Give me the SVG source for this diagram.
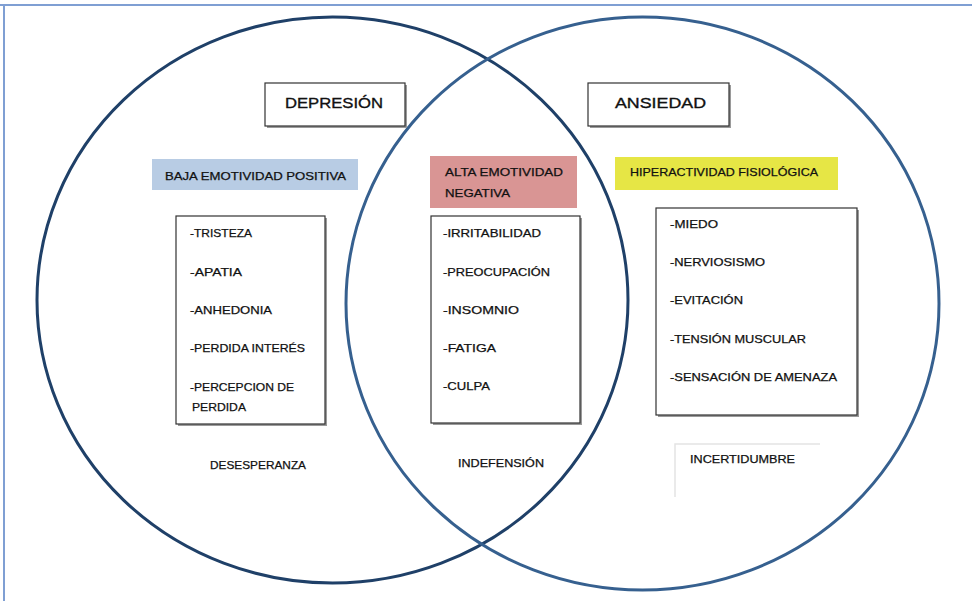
<svg xmlns="http://www.w3.org/2000/svg" width="972" height="601" viewBox="0 0 972 601">
<style>
text{font-family:"Liberation Sans","DejaVu Sans",sans-serif;fill:#111;stroke:#111;stroke-width:0.25;}
.t{font-size:11px;}
.h{font-size:15px;stroke-width:0.35;}
.shadow{fill:#9a9a9a;}
.box{fill:#fff;stroke:#333;stroke-width:1.2;}
</style>
<rect x="0" y="0" width="972" height="601" fill="#fff"/>
<g id="frame">
<line x1="0" y1="5" x2="972" y2="5" stroke="#7f9fd3" stroke-width="2"/>
<line x1="4" y1="5" x2="4" y2="601" stroke="#7f9fd3" stroke-width="2"/>
</g>
<g id="connectors">
<ellipse id="circle-depresion" cx="332.5" cy="300" rx="295.5" ry="283" fill="none" stroke="#1f4068" stroke-width="3"/>
<ellipse id="circle-ansiedad" cx="642.5" cy="303.5" rx="296.5" ry="286.5" fill="none" stroke="#36608f" stroke-width="3"/>
</g>
<g id="depresion">
<rect class="shadow" x="267" y="85" width="140" height="43"/>
<rect class="box" x="265" y="83" width="140" height="43"/>
<text class="h" x="285" y="108" textLength="98" lengthAdjust="spacingAndGlyphs">DEPRESIÓN</text>
</g>
<g id="ansiedad">
<rect class="shadow" x="590" y="85" width="141" height="43"/>
<rect class="box" x="588" y="83" width="141" height="43"/>
<text class="h" x="615" y="108" textLength="91" lengthAdjust="spacingAndGlyphs">ANSIEDAD</text>
</g>
<g id="baja-emotividad">
<rect x="152" y="159" width="206" height="31" fill="#b8cce4"/>
<text class="t" x="165" y="180" textLength="181" lengthAdjust="spacingAndGlyphs">BAJA EMOTIVIDAD POSITIVA</text>
</g>
<g id="alta-emotividad">
<rect x="430" y="156" width="147" height="52" fill="#d99594"/>
<text class="t" x="445" y="176" textLength="118" lengthAdjust="spacingAndGlyphs">ALTA EMOTIVIDAD</text>
<text class="t" x="445" y="197" textLength="65" lengthAdjust="spacingAndGlyphs">NEGATIVA</text>
</g>
<g id="hiperactividad">
<rect x="615" y="157" width="223" height="33" fill="#e6e645"/>
<text class="t" x="630" y="176" textLength="188" lengthAdjust="spacingAndGlyphs">HIPERACTIVIDAD FISIOLÓGICA</text>
</g>
<g id="lista-depresion">
<rect class="shadow" x="178" y="218" width="149" height="208"/>
<rect class="box" x="176" y="216" width="149" height="208"/>
<text class="t" x="190" y="237" textLength="62" lengthAdjust="spacingAndGlyphs">-TRISTEZA</text>
<text class="t" x="190" y="276" textLength="52" lengthAdjust="spacingAndGlyphs">-APATIA</text>
<text class="t" x="190" y="314" textLength="82" lengthAdjust="spacingAndGlyphs">-ANHEDONIA</text>
<text class="t" x="190" y="352" textLength="115" lengthAdjust="spacingAndGlyphs">-PERDIDA INTERÉS</text>
<text class="t" x="190" y="391" textLength="104" lengthAdjust="spacingAndGlyphs">-PERCEPCION DE</text>
<text class="t" x="192" y="411" textLength="54" lengthAdjust="spacingAndGlyphs">PERDIDA</text>
</g>
<g id="lista-comun">
<rect class="shadow" x="433" y="218" width="149" height="207"/>
<rect class="box" x="431" y="216" width="149" height="207"/>
<text class="t" x="443" y="237" textLength="98" lengthAdjust="spacingAndGlyphs">-IRRITABILIDAD</text>
<text class="t" x="443" y="276" textLength="107" lengthAdjust="spacingAndGlyphs">-PREOCUPACIÓN</text>
<text class="t" x="443" y="314" textLength="76" lengthAdjust="spacingAndGlyphs">-INSOMNIO</text>
<text class="t" x="443" y="352" textLength="53" lengthAdjust="spacingAndGlyphs">-FATIGA</text>
<text class="t" x="443" y="390" textLength="47" lengthAdjust="spacingAndGlyphs">-CULPA</text>
</g>
<g id="lista-ansiedad">
<rect class="shadow" x="658" y="210" width="201" height="207"/>
<rect class="box" x="656" y="208" width="201" height="207"/>
<text class="t" x="670" y="228" textLength="48" lengthAdjust="spacingAndGlyphs">-MIEDO</text>
<text class="t" x="670" y="266" textLength="95" lengthAdjust="spacingAndGlyphs">-NERVIOSISMO</text>
<text class="t" x="670" y="304" textLength="73" lengthAdjust="spacingAndGlyphs">-EVITACIÓN</text>
<text class="t" x="670" y="343" textLength="136" lengthAdjust="spacingAndGlyphs">-TENSIÓN MUSCULAR</text>
<text class="t" x="670" y="381" textLength="167" lengthAdjust="spacingAndGlyphs">-SENSACIÓN DE AMENAZA</text>
</g>
<g id="desesperanza">
<text class="t" x="210" y="469" textLength="96" lengthAdjust="spacingAndGlyphs">DESESPERANZA</text>
</g>
<g id="indefension">
<text class="t" x="458" y="467" textLength="86" lengthAdjust="spacingAndGlyphs">INDEFENSIÓN</text>
</g>
<g id="incertidumbre">
<path d="M675,497 V444 H820" fill="none" stroke="#e4e4e4" stroke-width="1.5"/>
<text class="t" x="690" y="463" textLength="105" lengthAdjust="spacingAndGlyphs">INCERTIDUMBRE</text>
</g>
</svg>
